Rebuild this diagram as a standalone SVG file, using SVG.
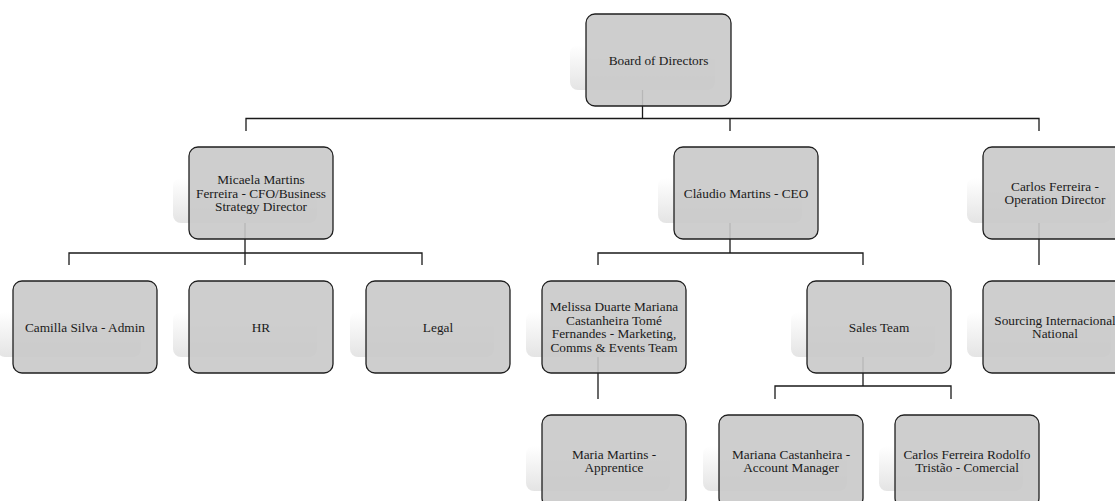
<svg xmlns="http://www.w3.org/2000/svg" width="1115" height="501" viewBox="0 0 1115 501">
<defs>
<linearGradient id="sh" x1="0" y1="0" x2="0" y2="1">
<stop offset="0" stop-color="#ffffff"/>
<stop offset="1" stop-color="#e4e4e4"/>
</linearGradient>
<style>
.conn{fill:none;stroke:#1a1a1a;stroke-width:1.3}
.shadow{fill:url(#sh)}
.box{fill:#c9c9c9;fill-opacity:0.9;stroke:#1f1f1f;stroke-width:1.3}
.t{font-size:13.3px;fill:#1a1a1a;text-anchor:middle}
</style>
</defs>
<rect width="1115" height="501" fill="#ffffff"/>
<g id="connectors">
<path class="conn" d="M642.5 90V118.5M246 131V118.5H1039V131M730 118.5V131"/>
<path class="conn" d="M245 223V253M69 265V253H422V265M245 253V265"/>
<path class="conn" d="M730 223V253M598 265V253H863V265"/>
<path class="conn" d="M1039 223V265"/>
<path class="conn" d="M598 357V399"/>
<path class="conn" d="M863 357V386M775 399V386H951V399"/>
</g>
<g font-family="'Liberation Serif', 'DejaVu Serif', serif">
<g id="board">
<rect class="shadow" x="570" y="45" width="145" height="45" rx="8"/>
<rect class="box" x="586" y="14" width="145" height="92" rx="9"/>
<text class="t" x="658.5" y="64.5">Board of Directors</text>
</g>
<g id="micaela">
<rect class="shadow" x="173" y="178" width="144" height="45" rx="8"/>
<rect class="box" x="189" y="147" width="144" height="92" rx="9"/>
<text class="t" x="261" y="184">Micaela Martins<tspan x="261" dy="13.7">Ferreira - CFO/Business</tspan><tspan x="261" dy="13.7">Strategy Director</tspan></text>
</g>
<g id="ceo">
<rect class="shadow" x="658" y="178" width="144" height="45" rx="8"/>
<rect class="box" x="674" y="147" width="144" height="92" rx="9"/>
<text class="t" x="746" y="197.5">Cláudio Martins - CEO</text>
</g>
<g id="operation">
<rect class="shadow" x="967" y="178" width="144" height="45" rx="8"/>
<rect class="box" x="983" y="147" width="144" height="92" rx="9"/>
<text class="t" x="1055" y="190.5">Carlos Ferreira -<tspan x="1055" dy="13.7">Operation Director</tspan></text>
</g>
<g id="camilla">
<rect class="shadow" x="-3" y="312" width="144" height="45" rx="8"/>
<rect class="box" x="13" y="281" width="144" height="92" rx="9"/>
<text class="t" x="85" y="331.5">Camilla Silva - Admin</text>
</g>
<g id="hr">
<rect class="shadow" x="173" y="312" width="144" height="45" rx="8"/>
<rect class="box" x="189" y="281" width="144" height="92" rx="9"/>
<text class="t" x="261" y="331.5">HR</text>
</g>
<g id="legal">
<rect class="shadow" x="350" y="312" width="144" height="45" rx="8"/>
<rect class="box" x="366" y="281" width="144" height="92" rx="9"/>
<text class="t" x="438" y="331.5">Legal</text>
</g>
<g id="marketing">
<rect class="shadow" x="526" y="312" width="144" height="45" rx="8"/>
<rect class="box" x="542" y="281" width="144" height="92" rx="9"/>
<text class="t" x="614" y="311">Melissa Duarte Mariana<tspan x="614" dy="13.7">Castanheira Tomé</tspan><tspan x="614" dy="13.7">Fernandes - Marketing,</tspan><tspan x="614" dy="13.7">Comms &amp; Events Team</tspan></text>
</g>
<g id="sales">
<rect class="shadow" x="791" y="312" width="144" height="45" rx="8"/>
<rect class="box" x="807" y="281" width="144" height="92" rx="9"/>
<text class="t" x="879" y="331.5">Sales Team</text>
</g>
<g id="sourcing">
<rect class="shadow" x="967" y="312" width="144" height="45" rx="8"/>
<rect class="box" x="983" y="281" width="144" height="92" rx="9"/>
<text class="t" x="1055" y="324.5">Sourcing Internacional<tspan x="1055" dy="13.7">National</tspan></text>
</g>
<g id="apprentice">
<rect class="shadow" x="526" y="446" width="144" height="45" rx="8"/>
<rect class="box" x="542" y="415" width="144" height="92" rx="9"/>
<text class="t" x="614" y="458.5">Maria Martins -<tspan x="614" dy="13.7">Apprentice</tspan></text>
</g>
<g id="account">
<rect class="shadow" x="703" y="446" width="144" height="45" rx="8"/>
<rect class="box" x="719" y="415" width="144" height="92" rx="9"/>
<text class="t" x="791" y="458.5">Mariana Castanheira -<tspan x="791" dy="13.7">Account Manager</tspan></text>
</g>
<g id="comercial">
<rect class="shadow" x="879" y="446" width="144" height="45" rx="8"/>
<rect class="box" x="895" y="415" width="144" height="92" rx="9"/>
<text class="t" x="967" y="458.5">Carlos Ferreira Rodolfo<tspan x="967" dy="13.7">Tristão - Comercial</tspan></text>
</g>
</g>
</svg>
